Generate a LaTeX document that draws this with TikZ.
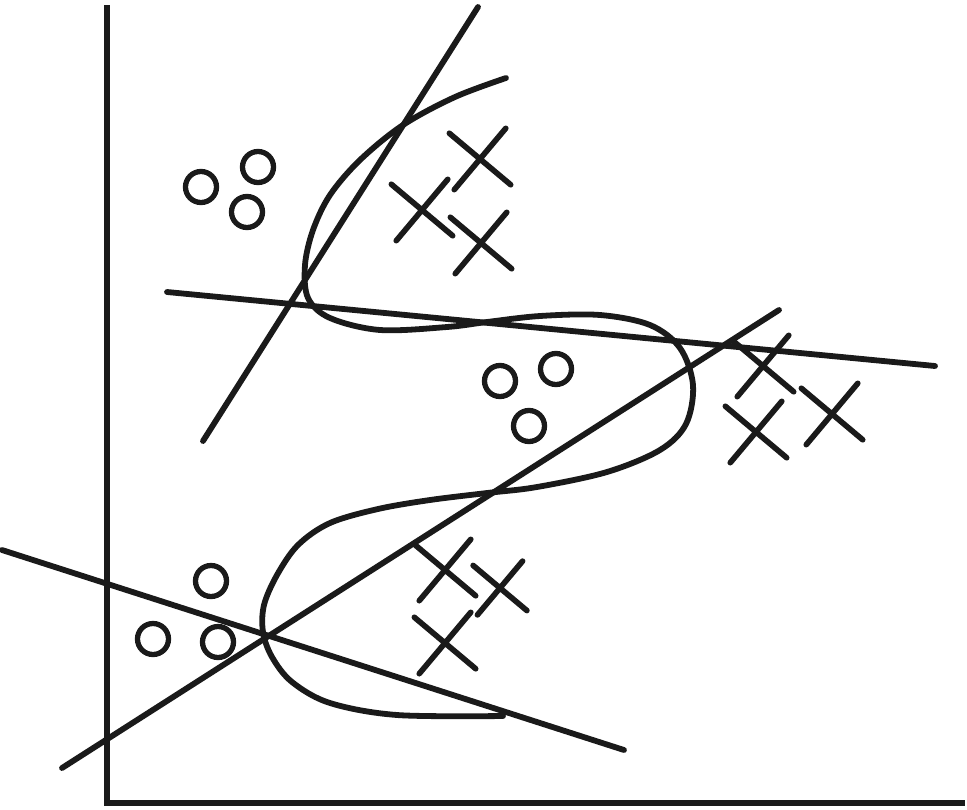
\documentclass[tikz,border=0pt]{standalone}
\usepackage{xcolor}
\usepackage{tikz}
\usetikzlibrary{
  shapes.misc,
  positioning,
  calc
}
\definecolor{skInk}{HTML}{1A1A1A}
\tikzset{
  axisline/.style={line width=1.8pt, skInk, line join=miter},
  sepline/.style={line width=1.65pt, skInk, line cap=round},
  boundary/.style={line width=1.65pt, skInk, line cap=round},
  ringmark/.style={draw=skInk, circle, line width=1.5pt, inner sep=0pt, minimum size=3.1mm},
  crossmark/.style={draw=skInk, cross out, line width=1.6pt, line cap=round, inner sep=0pt, minimum size=5.1mm, rotate=5},
  smallcross/.style={crossmark, minimum size=4.4mm}
}

\begin{document}
\begin{tikzpicture}[x=0.01cm, y=-0.01cm]
  \useasboundingbox (0,0) rectangle (967,809);

  % axes
  \coordinate (ytop) at (107,5);
  \coordinate (orig) at (107,803);
  \coordinate (xend) at (965,803);
  \draw[axisline] (ytop) -- (orig) -- (xend);

  % separating lines
  \coordinate (la1) at (203,441); \coordinate (la2) at (478,7);
  \coordinate (lb1) at (167,292); \coordinate (lb2) at (935,366);
  \coordinate (lc1) at (62,768);  \coordinate (lc2) at (779,310);
  \coordinate (ld1) at (2,550);   \coordinate (ld2) at (624,750);
  \draw[sepline] (la1) -- (la2);
  \draw[sepline] (lb1) -- (lb2);
  \draw[sepline] (lc1) -- (lc2);
  \draw[sepline] (ld1) -- (ld2);

  % curved boundary
  \draw[boundary] plot[smooth, tension=0.55] coordinates {
    (506,78) (455,97) (403,125) (360,160) (330,195) (313,230) (305,265)
    (308,298) (330,318) (380,330) (447,327) (487,322) (540,316) (600,315)
    (650,325) (680,348) (693,385) (686,424) (660,450) (607,472) (537,487)
    (487,493) (430,500) (378,509) (330,523) (298,545) (277,575) (264,605)
    (263,632) (272,657) (292,682) (330,703) (397,715) (503,716)};

  % class o
  \node[ringmark] (o1) at (201,187) {};
  \node[ringmark] (o2) at (258,167) {};
  \node[ringmark] (o3) at (247,212) {};
  \node[ringmark] (o4) at (500,381) {};
  \node[ringmark] (o5) at (556,369) {};
  \node[ringmark] (o6) at (529,426) {};
  \node[ringmark] (o7) at (211,581) {};
  \node[ringmark] (o8) at (153,639) {};
  \node[ringmark] (o9) at (218,642) {};

  % class x
  \node[crossmark] (x1) at (480,159) {};
  \node[crossmark] (x2) at (422,210) {};
  \node[crossmark] (x3) at (481,243) {};
  \node[crossmark] (x4) at (763,366) {};
  \node[crossmark] (x5) at (756,432) {};
  \node[crossmark] (x6) at (832,414) {};
  \node[crossmark] (x7) at (445,570) {};
  \node[smallcross] (x8) at (500,588) {};
  \node[crossmark] (x9) at (445,643) {};
\end{tikzpicture}
\end{document}
